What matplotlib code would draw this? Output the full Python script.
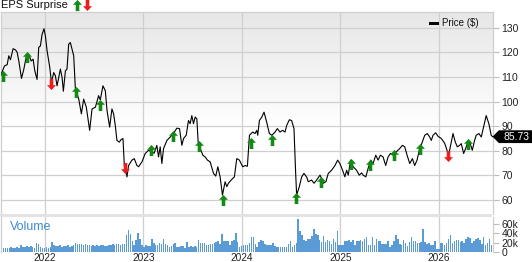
import numpy as np
import matplotlib
matplotlib.use("Agg")
import matplotlib.pyplot as plt
from matplotlib.path import Path
from matplotlib.patches import Polygon, Rectangle
from matplotlib.transforms import blended_transform_factory

plt.rcParams['font.family'] = ['Liberation Sans', 'DejaVu Sans']

# price history (decimal years, $)
dates = [
    2021.551, 2021.592, 2021.619, 2021.635, 2021.652, 2021.679, 2021.703, 2021.720, 2021.737, 2021.764,
    2021.787, 2021.814, 2021.838, 2021.862, 2021.882, 2021.899, 2021.922, 2021.939, 2021.956, 2021.973,
    2021.993, 2022.007, 2022.024, 2022.051, 2022.068, 2022.091, 2022.108, 2022.125, 2022.142, 2022.159,
    2022.176, 2022.189, 2022.210, 2022.226, 2022.243, 2022.260, 2022.277, 2022.294, 2022.311, 2022.345,
    2022.372, 2022.395, 2022.422, 2022.456, 2022.480, 2022.514, 2022.547, 2022.564, 2022.591, 2022.615,
    2022.632, 2022.659, 2022.682, 2022.699, 2022.716, 2022.733, 2022.757, 2022.774, 2022.794, 2022.808,
    2022.835, 2022.851, 2022.885, 2022.909, 2022.936, 2022.953, 2022.987, 2023.020, 2023.054, 2023.088,
    2023.111, 2023.138, 2023.155, 2023.172, 2023.189, 2023.206, 2023.240, 2023.274, 2023.307, 2023.341,
    2023.368, 2023.392, 2023.409, 2023.436, 2023.459, 2023.476, 2023.493, 2023.510, 2023.527, 2023.544,
    2023.557, 2023.578, 2023.605, 2023.628, 2023.652, 2023.679, 2023.713, 2023.736, 2023.757, 2023.780,
    2023.804, 2023.831, 2023.848, 2023.865, 2023.892, 2023.925, 2023.949, 2023.976, 2024.010, 2024.034,
    2024.057, 2024.078, 2024.111, 2024.135, 2024.152, 2024.162, 2024.179, 2024.203, 2024.226, 2024.253,
    2024.280, 2024.304, 2024.338, 2024.361, 2024.388, 2024.415, 2024.439, 2024.456, 2024.483, 2024.506,
    2024.530, 2024.547, 2024.557, 2024.584, 2024.608, 2024.631, 2024.658, 2024.675, 2024.709, 2024.733,
    2024.760, 2024.794, 2024.810, 2024.827, 2024.854, 2024.878, 2024.912, 2024.946, 2024.973, 2024.996,
    2025.023, 2025.047, 2025.064, 2025.081, 2025.104, 2025.131, 2025.165, 2025.192, 2025.216, 2025.232,
    2025.259, 2025.282, 2025.309, 2025.333, 2025.360, 2025.384, 2025.407, 2025.434, 2025.461, 2025.485,
    2025.509, 2025.536, 2025.569, 2025.603, 2025.630, 2025.654, 2025.678, 2025.705, 2025.732, 2025.755,
    2025.779, 2025.806, 2025.833, 2025.857, 2025.884, 2025.907, 2025.924, 2025.941, 2025.968, 2025.992,
    2026.025, 2026.059, 2026.083, 2026.100, 2026.127, 2026.144, 2026.167, 2026.188, 2026.211, 2026.228,
    2026.252, 2026.272, 2026.296, 2026.319, 2026.340, 2026.363, 2026.380, 2026.407, 2026.431, 2026.454,
    2026.481, 2026.508, 2026.532, 2026.545,
]
prices = [
    110.5, 114.5, 115.0, 118.6, 117.0, 121.5, 121.0, 120.0, 116.5, 109.4,
    113.0, 118.6, 119.2, 116.5, 117.2, 112.5, 109.0, 122.0, 122.6, 127.3,
    129.6, 126.6, 120.6, 113.9, 107.8, 111.8, 110.5, 106.4, 109.8, 113.2,
    109.8, 104.2, 112.5, 113.2, 123.3, 124.0, 121.3, 118.6, 105.1, 101.0,
    95.0, 101.0, 97.7, 88.3, 97.0, 97.7, 102.4, 100.7, 106.4, 104.4,
    96.4, 89.6, 97.0, 95.0, 90.3, 84.2, 83.5, 84.5, 85.0, 74.0,
    69.4, 74.0, 76.2, 76.8, 74.0, 73.5, 75.5, 78.9, 80.2, 79.6,
    79.0, 82.2, 77.5, 81.6, 74.8, 80.9, 84.2, 85.6, 87.0, 89.2,
    89.0, 82.2, 85.0, 86.3, 92.3, 91.0, 94.3, 91.0, 93.7, 93.0,
    83.6, 80.9, 78.2, 77.5, 76.2, 75.5, 70.8, 69.7, 73.5, 69.4,
    62.0, 67.4, 65.4, 66.8, 68.1, 69.4, 76.8, 76.2, 73.5, 74.0,
    73.7, 86.3, 87.6, 87.0, 88.3, 86.3, 92.3, 93.7, 95.7, 91.6,
    87.0, 86.3, 87.6, 89.0, 87.6, 88.3, 87.6, 90.3, 92.6, 92.3,
    89.0, 70.8, 62.0, 65.4, 69.4, 70.8, 69.4, 67.4, 68.1, 66.8,
    68.1, 70.1, 68.8, 66.8, 67.4, 70.8, 72.1, 74.0, 76.2, 74.8,
    72.1, 69.4, 72.1, 70.1, 76.2, 73.5, 72.1, 70.1, 71.0, 70.1,
    69.4, 72.8, 76.2, 74.8, 78.2, 76.2, 78.2, 77.5, 74.0, 77.5,
    78.9, 78.2, 79.6, 80.9, 82.2, 81.6, 78.2, 74.8, 76.8, 74.0,
    76.2, 80.9, 83.6, 86.3, 87.0, 85.6, 84.2, 86.3, 87.3, 85.9,
    85.0, 83.1, 80.2, 78.2, 83.6, 87.0, 83.6, 81.6, 82.2, 82.9,
    78.9, 80.9, 83.6, 82.9, 80.2, 84.2, 86.3, 87.0, 85.6, 89.6,
    94.3, 91.0, 86.3, 85.73,
]

# EPS surprise markers
eps_dates = [2021.578, 2021.821, 2022.064, 2022.318, 2022.564, 2022.811, 2023.078, 2023.307, 2023.561, 2023.807,
             2024.091, 2024.307, 2024.550, 2024.800, 2025.104, 2025.299, 2025.546, 2025.813, 2026.096, 2026.296]
eps_levels = [110.3, 118.2, 107.2, 103.8, 98.8, 73.1, 80.5, 86.1, 81.8, 60.0,
              83.2, 84.5, 60.7, 67.4, 74.5, 74.1, 78.2, 80.9, 77.8, 82.6]
eps_beat = [True, True, False, True, True, False, True, True, True, True,
            True, True, True, True, True, True, True, True, False, True]

# weekly volume (thousands)
volume_k = [
    11, 10, 10, 9, 10, 11, 10, 9, 11, 10, 15, 12, 11, 13, 12, 14, 11, 10, 19, 17,
    11, 9, 10, 11, 10, 12, 22, 16, 14, 13, 15, 12, 14, 13, 16, 12, 14, 15, 20.5, 18,
    17, 18, 16, 17, 15, 15, 14, 16, 13, 15, 14, 16, 15, 13, 14, 16, 15, 17, 16, 18,
    17, 16, 18,
    17.7, 37.6, 46.8, 39, 24.8, 16.3, 25.5, 41, 29, 16.3, 10.6, 16.3, 12.8, 13.5, 28.4, 19.1,
    14.9, 16.3, 20.6, 18.4, 27.7, 17.7, 14.9, 10.6, 13.5, 17.7, 19.1, 10.6, 12, 13.5, 12.8, 9.2,
    22, 10.6, 12.8, 12, 13.5, 12, 26.2, 19.1, 20.6, 19.9, 14.9, 16.3, 17.7, 17.7, 19.9, 22,
    23.4, 17.7, 39, 24.8, 24.8, 23.4, 14.9, 24.8, 27, 41, 22, 10.6, 13.5, 16.3, 14.9,
    14.9, 19.1, 32.6, 32.6, 17.7, 11.3, 22, 26.2, 23.4, 17.7, 14.9, 16.3, 16.3, 19.1, 13.5, 12,
    12, 11.3, 12, 11.3, 12, 17.7, 23.4, 10.6, 14.9, 19.1, 70, 44.7, 37.6, 27, 23.4, 27.7,
    27.7, 34, 49.6, 39, 37.6, 27, 22, 34, 22, 27, 23.4, 17.7, 27.7, 22, 44.7, 16.3,
    16.3, 16.3, 23.4, 23.4, 26.2, 22, 26.2, 16.3, 24.8, 24.8, 26.2, 24.8, 29, 31.9, 16.3,
    16.3, 32.6, 16.3, 27.7, 24.8, 23.4, 17.7, 17.7, 17.7, 23.4, 12, 16.3, 24.8, 37.6, 27.7, 17.7,
    16.3, 26.2, 20.6, 13.5, 22, 31.9, 24.8, 24.8, 20.6, 20.6, 22, 48.9, 22, 17.7, 20.6, 16.3,
    16.3, 24.8, 6.4, 7.8, 20.6, 20.6, 16.3, 19.1, 27.7, 36.2, 19.1, 24.8, 26.2, 26.2, 22, 23.4,
    19.9, 29, 33.3, 30.5, 20.6, 24.8, 27.7, 30.5, 26.2, 17.7, 31.9, 16.3, 20.6, 29, 14.9,
]

year_ticks = [2022, 2023, 2024, 2025, 2026]
price_ticks = [60, 70, 80, 90, 100, 110, 120, 130]
vol_ticks = [0, 20, 40, 60]
vol_labels = ['0', '20k', '40k', '60k']

GRID = '#cfcfcf'
W, H = 532, 262
x0, x1 = 2021.551, 2026.545


def fx(px):
    return px / W


def fy(py):
    return 1 - py / H


def arrow_marker(up=True):
    s = 1 if up else -1
    verts = [(-0.5, 0.08 * s), (0, 0.62 * s), (0.5, 0.08 * s), (0.2, 0.08 * s),
             (0.2, -0.62 * s), (-0.2, -0.62 * s), (-0.2, 0.08 * s), (-0.5, 0.08 * s)]
    codes = [Path.MOVETO] + [Path.LINETO] * 6 + [Path.CLOSEPOLY]
    return Path(verts, codes)


UP = arrow_marker(True)
DOWN = arrow_marker(False)
GREEN = '#138a13'
RED = '#ee1c1c'
MS = 8

fig = plt.figure(figsize=(W / 100, H / 100), dpi=100)

# ---- price panel ----
ax = fig.add_axes([fx(0.5), fy(214), fx(492), fy(12) - fy(214)])
grad = np.ones((200, 1, 3))
f = np.linspace(1, 0, 200)  # top -> bottom
shade = np.clip((f - 0.42) / 0.58, 0, 1)
for c in range(3):
    grad[:, 0, c] = 1 - shade * (1 - 0.905)
ax.imshow(grad, extent=[0, 1, 0, 1], transform=ax.transAxes, aspect='auto', zorder=0)

ax.plot(dates, prices, color='black', lw=0.8, zorder=3)
for d, lv, beat in zip(eps_dates, eps_levels, eps_beat):
    ax.plot(d, lv, marker=UP if beat else DOWN, markersize=MS, color=GREEN if beat else RED,
            markeredgewidth=0, zorder=4)

ax.set_xlim(x0, x1)
ax.set_ylim(54.3, 136.4)
ax.set_xticks(year_ticks)
ax.set_yticks(price_ticks)
ax.grid(True, color=GRID, lw=0.9, zorder=1)
ax.set_axisbelow(True)
ax.tick_params(axis='x', length=0, labelbottom=False)
ax.yaxis.tick_right()
ax.tick_params(axis='y', length=4.5, width=0.8, color='#bdbdbd', pad=2, labelsize=7.5, labelcolor='#222222')
for sp in ['left', 'top', 'right']:
    ax.spines[sp].set_color(GRID)
    ax.spines[sp].set_linewidth(0.9)
ax.spines['bottom'].set_visible(False)

# last price tag
tr = blended_transform_factory(ax.transAxes, ax.transData)
last = prices[-1]
dy = 2.6
tag = Polygon([(1.0, last), (1.013, last + dy), (1.083, last + dy), (1.083, last - dy), (1.013, last - dy)],
              closed=True, transform=tr, facecolor='black', edgecolor='none', clip_on=False, zorder=6)
ax.add_patch(tag)
ax.text(1.048, last, f'{last:.2f}', transform=tr, color='white', fontsize=7.5,
        ha='center', va='center', clip_on=False, zorder=7)

# separator band
fig.patches.append(Rectangle((0, fy(217)), fx(492), fy(214) - fy(217), transform=fig.transFigure,
                             facecolor='#e3e3e3', edgecolor='none'))

# ---- volume panel ----
axv = fig.add_axes([fx(0.5), fy(252.3), fx(492), fy(217) - fy(252.3)])
n = len(volume_k)
step = (x1 - x0) / n
vx = x0 + step * (np.arange(n) + 0.5)
axv.bar(vx, volume_k, width=step * 0.78, color='#5b9bd5', edgecolor='none', zorder=2)
axv.set_xlim(x0, x1)
axv.set_ylim(0, 75)
axv.set_xticks(year_ticks)
axv.set_xticklabels([str(y) for y in year_ticks])
axv.grid(True, axis='x', color=GRID, lw=0.9, zorder=1)
axv.set_axisbelow(True)
axv.tick_params(axis='x', length=0, pad=0.5, labelsize=7.3, labelcolor='#222222')
axv.yaxis.tick_right()
axv.set_yticks(vol_ticks)
axv.set_yticklabels(vol_labels)
axv.tick_params(axis='y', length=4.5, width=0.8, color='#bdbdbd', pad=2, labelsize=7.5, labelcolor='#222222')
for sp in ['left', 'right']:
    axv.spines[sp].set_color(GRID)
    axv.spines[sp].set_linewidth(0.9)
axv.spines['top'].set_visible(False)
axv.spines['bottom'].set_visible(False)
axv.text(0.02, 0.72, 'Volume', transform=axv.transAxes, color='#3d8bd0', fontsize=9, va='center')

# ---- title & legend ----
fig.text(fx(1), fy(5), 'EPS Surprise', fontsize=8, va='center', ha='left', color='#111111')
ax.plot([fx(76.5)], [fy(4.7)], transform=fig.transFigure, marker=UP, markersize=MS, color=GREEN,
        markeredgewidth=0, clip_on=False)
ax.plot([fx(86.5)], [fy(4.7)], transform=fig.transFigure, marker=DOWN, markersize=MS, color=RED,
        markeredgewidth=0, clip_on=False)

fig.patches.append(Rectangle((fx(428.5), fy(25.3)), fx(10.5), fy(21.7) - fy(25.3), transform=fig.transFigure,
                             facecolor='black', edgecolor='none'))
fig.text(fx(442), fy(23.5), 'Price ($)', fontsize=7, va='center', ha='left', color='#111111')

fig.savefig('out.png', dpi=100)
